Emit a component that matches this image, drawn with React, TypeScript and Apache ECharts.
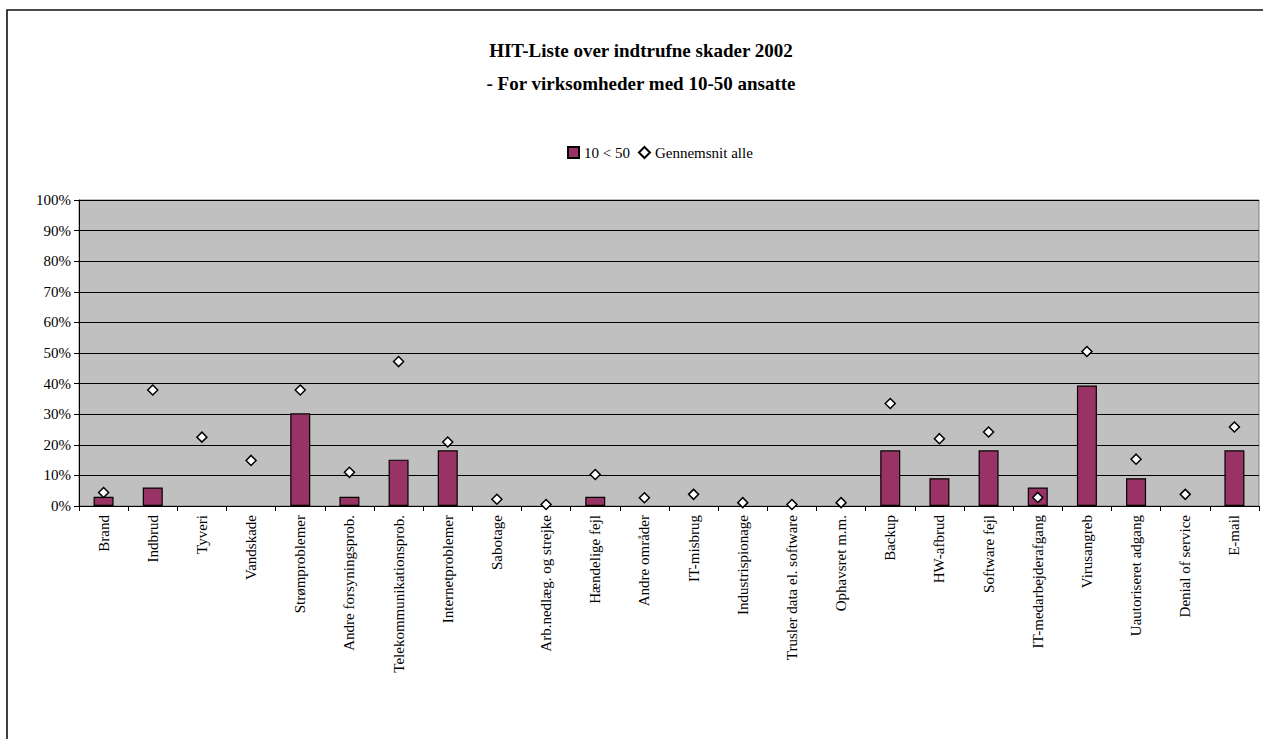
import React, { useEffect, useRef } from "react";
import * as echarts from "echarts";

const categories = [
  "Brand", "Indbrud", "Tyveri", "Vandskade", "Strømproblemer", "Andre forsyningsprob.",
  "Telekommunikationsprob.", "Internetproblemer", "Sabotage", "Arb.nedlæg. og strejke",
  "Hændelige fejl", "Andre områder", "IT-misbrug", "Industrispionage",
  "Trusler data el. software", "Ophavsret m.m.", "Backup", "HW-afbrud", "Software fejl",
  "IT-medarbejderafgang", "Virusangreb", "Uautoriseret adgang", "Denial of service", "E-mail",
];

const series10to50: (number | null)[] = [
  0.0303, 0.0606, null, null, 0.303, 0.0303, 0.1515, 0.1818, null, null,
  0.0303, null, null, null, null, null, 0.1818, 0.0909, 0.1818, 0.0606,
  0.3939, 0.0909, null, 0.1818,
];

const seriesAverage: number[] = [
  0.044, 0.379, 0.225, 0.149, 0.379, 0.11, 0.472, 0.209, 0.022, 0.005,
  0.103, 0.027, 0.038, 0.011, 0.005, 0.011, 0.335, 0.22, 0.242, 0.028,
  0.505, 0.153, 0.038, 0.258,
];

const yTicks = [0, 0.1, 0.2, 0.3, 0.4, 0.5, 0.6, 0.7, 0.8, 0.9, 1.0];

const seriesNames = ["10 < 50", "Gennemsnit alle"];
const titleLines = ["HIT-Liste over indtrufne skader 2002", "- For virksomheder med 10-50 ansatte"];

const FONT = "'Liberation Serif', 'Times New Roman', serif";

export default function App() {
  const ref = useRef<HTMLDivElement>(null);

  useEffect(() => {
    document.body.style.margin = "0";
    if (!ref.current) return;
    const chart = echarts.init(ref.current, undefined, { renderer: "svg" });
    chart.setOption({
      animation: false,
      backgroundColor: "#ffffff",
      textStyle: { fontFamily: FONT },
      title: {
        text: titleLines.join("\n"),
        left: 636,
        top: 29,
        textAlign: "center",
        textStyle: {
          fontFamily: FONT,
          fontSize: 19,
          fontWeight: "bold",
          color: "#000",
          lineHeight: 33,
        },
      },
      legend: {
        top: 140,
        left: 562,
        itemWidth: 11,
        itemHeight: 11,
        itemGap: 8,
        textStyle: { fontFamily: FONT, fontSize: 15, color: "#000" },
        data: [
          { name: seriesNames[0], icon: "rect" },
          { name: seriesNames[1], icon: "diamond" },
        ],
      },
      graphic: [
        {
          type: "rect",
          shape: { x: 7, y: 10, width: 1400, height: 900 },
          style: { fill: "none", stroke: "#111", lineWidth: 1.6 },
          silent: true,
          z: 100,
        },
      ],
      grid: {
        left: 79,
        right: 4,
        top: 200,
        bottom: 233,
        show: true,
        backgroundColor: "#C0C0C0",
        borderColor: "#808080",
        borderWidth: 1,
      },
      xAxis: {
        type: "category",
        data: categories,
        boundaryGap: true,
        axisLine: { show: true, lineStyle: { color: "#000", width: 1 } },
        axisTick: { show: true, alignWithLabel: false, length: 5, lineStyle: { color: "#000" } },
        axisLabel: {
          interval: 0,
          rotate: 90,
          fontFamily: FONT,
          fontSize: 15,
          color: "#000",
          margin: 9,
        },
        splitLine: { show: false },
      },
      yAxis: {
        type: "value",
        min: 0,
        max: 1,
        interval: 0.1,
        axisLine: { show: true, lineStyle: { color: "#000", width: 1 } },
        axisTick: { show: true, length: 5, lineStyle: { color: "#000" } },
        axisLabel: {
          fontFamily: FONT,
          fontSize: 15,
          color: "#000",
          margin: 8,
          formatter: (v: number) => {
            const match = yTicks.find((t) => Math.abs(t - v) < 1e-6);
            return match !== undefined ? Math.round(match * 100) + "%" : "";
          },
        },
        splitLine: { show: true, lineStyle: { color: "#000", width: 1 } },
      },
      series: [
        {
          name: seriesNames[0],
          type: "bar",
          data: series10to50,
          barWidth: 20,
          itemStyle: { color: "#993366", borderColor: "#000", borderWidth: 1.2 },
        },
        {
          name: seriesNames[1],
          type: "scatter",
          data: seriesAverage,
          symbol: "diamond",
          symbolSize: 10,
          itemStyle: { color: "#ffffff", borderColor: "#000", borderWidth: 1.5, opacity: 1 },
          z: 5,
        },
      ],
    });
    return () => chart.dispose();
  }, []);

  return <div ref={ref} style={{ width: 1263, height: 739 }} />;
}
